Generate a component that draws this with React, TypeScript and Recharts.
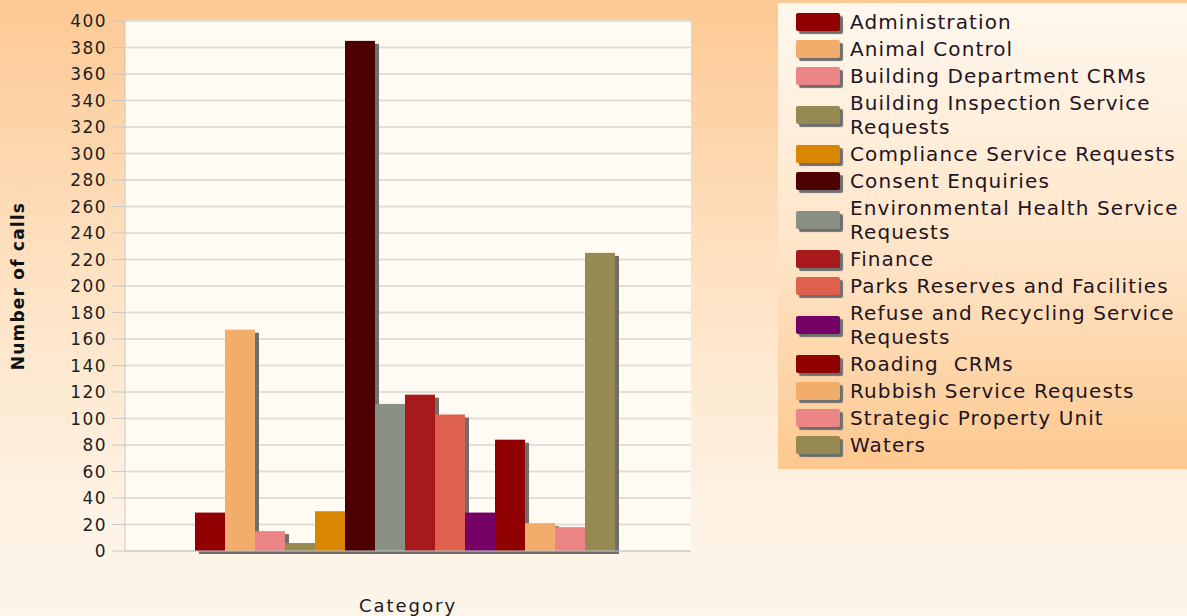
import { Bar, BarChart, CartesianGrid, Legend, XAxis, YAxis } from "recharts";

// call volumes per service group
const services = [
  "Administration",
  "Animal Control",
  "Building Department CRMs",
  "Building Inspection Service Requests",
  "Compliance Service Requests",
  "Consent Enquiries",
  "Environmental Health Service Requests",
  "Finance",
  "Parks Reserves and Facilities",
  "Refuse and Recycling Service Requests",
  "Roading  CRMs",
  "Rubbish Service Requests",
  "Strategic Property Unit",
  "Waters",
];
const calls = [29, 167, 15, 6, 30, 385, 111, 118, 103, 29, 84, 21, 18, 225];
const palette = [
  "#900000", "#f2ad6b", "#ec8686", "#968a52", "#d98600", "#4c0000", "#8a9184",
  "#a8191b", "#dd614d", "#750066", "#900000", "#f2ad6b", "#ec8686", "#968a52",
];
const yTicks = [0, 20, 40, 60, 80, 100, 120, 140, 160, 180, 200, 220, 240, 260, 280, 300, 320, 340, 360, 380, 400];

const row: Record<string, string | number> = { category: "Calls" };
services.forEach((s, i) => {
  row[`s${i}`] = calls[i];
});
const data = [row];

const font = "'DejaVu Sans', Verdana, sans-serif";

const ShadowBar = (props: any) => {
  const { x, y, width, height, fill } = props;
  if (!height || height <= 0) return null;
  return (
    <g>
      <rect x={x + 4} y={y + 3} width={width} height={height} fill="#6e6e6e" />
      <rect x={x} y={y} width={width} height={height} fill={fill} />
    </g>
  );
};

const renderLegend = (props: any) => (
  <div
    style={{
      width: 409,
      height: 466,
      boxSizing: "border-box",
      padding: "7px 0 0 18px",
      background: "linear-gradient(to bottom, #fff8ee 0%, #fee4c6 55%, #fdc88f 100%)",
      fontFamily: font,
      fontSize: 20,
      letterSpacing: 1.1,
      color: "#1f141f",
    }}
  >
    {(props.payload || []).map((entry: any) => (
      <div key={entry.value} style={{ display: "flex", alignItems: "center", marginBottom: 3 }}>
        <span
          style={{
            width: 44,
            height: 18,
            flex: "none",
            marginRight: 10,
            borderRadius: 2,
            background: entry.color,
            boxShadow: "3px 3px 1px #6e6e6e",
          }}
        />
        <span style={{ width: 337, lineHeight: "24px", whiteSpace: "pre-wrap" }}>{entry.value}</span>
      </div>
    ))}
  </div>
);

export default function App() {
  return (
    <div
      style={{
        position: "fixed",
        left: 0,
        top: 0,
        width: 1187,
        height: 616,
        background: "linear-gradient(to bottom, #fdc994 0%, #fee2c3 45%, #fdf1e2 80%, #fdf5ea 100%)",
      }}
    >
      <BarChart
        width={1187}
        height={616}
        data={data}
        margin={{ top: 21, right: 496, bottom: 0, left: 0 }}
        barCategoryGap={70}
        barGap={0}
      >
        <CartesianGrid vertical={false} fill="#fffaf2" stroke="#e0dedb" strokeWidth={2} />
        <XAxis
          dataKey="category"
          height={65}
          tick={false}
          tickSize={8}
          stroke="#c8c8c8"
          label={{
            value: "Category",
            position: "insideBottom",
            offset: 4,
            style: { fontFamily: font, fontSize: 18, fill: "#1a1a1a", letterSpacing: 2 },
          }}
        />
        <YAxis
          width={125}
          domain={[0, 400]}
          ticks={yTicks}
          interval={0}
          tickSize={13}
          tickMargin={5}
          stroke="#c8c8c8"
          tick={{ fontFamily: font, fontSize: 17, fill: "#1e1e1e", letterSpacing: 1.4 }}
          label={{
            value: "Number of calls",
            angle: -90,
            position: "insideLeft",
            offset: 18,
            style: { fontFamily: font, fontSize: 17, fontWeight: "bold", fill: "#111", letterSpacing: 1.2, textAnchor: "middle" },
          }}
        />
        <Legend
          layout="horizontal"
          verticalAlign="middle"
          align="center"
          content={renderLegend}
          wrapperStyle={{ left: 778, top: 3, width: 409, height: 466 }}
        />
        {services.map((s, i) => (
          <Bar
            key={s}
            dataKey={`s${i}`}
            name={s}
            fill={palette[i]}
            shape={ShadowBar}
            isAnimationActive={false}
          />
        ))}
      </BarChart>
    </div>
  );
}
